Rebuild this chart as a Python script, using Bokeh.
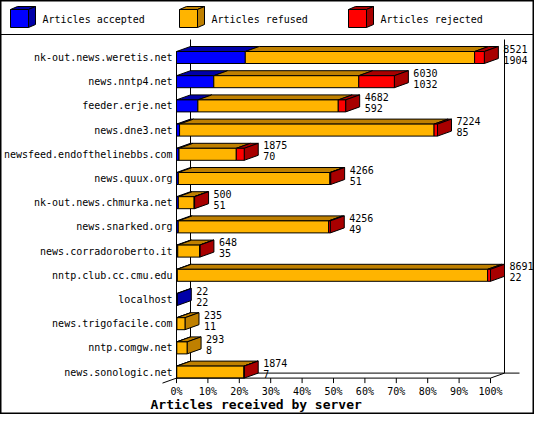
from bokeh.plotting import figure
from bokeh.models import Range1d, Span
from bokeh.core.properties import value
from bokeh.embed import file_html
from bokeh.resources import INLINE

# data (articles per server)
servers = ["nk-out.news.weretis.net", "news.nntp4.net", "feeder.erje.net",
           "news.dne3.net", "newsfeed.endofthelinebbs.com", "news.quux.org",
           "nk-out.news.chmurka.net", "news.snarked.org", "news.corradoroberto.it",
           "nntp.club.cc.cmu.edu", "localhost", "news.trigofacile.com",
           "nntp.comgw.net", "news.sonologic.net"]
totals = [8521, 6030, 4682, 7224, 1875, 4266, 500, 4256, 648, 8691, 22, 235, 293, 1874]
accepted = [1904, 1032, 592, 85, 70, 51, 51, 49, 35, 22, 22, 11, 8, 7]
rejected = [270, 985, 205, 95, 220, 20, 12, 45, 10, 80, 0, 0, 0, 6]
refused = [t - a - r for t, a, r in zip(totals, accepted, rejected)]

series_names = ["Articles accepted", "Articles refused", "Articles rejected"]
front_colors = ["#0000ff", "#ffb400", "#ff0000"]
shade_colors = ["#0000a8", "#bf8000", "#a80000"]

tick_values = [0, 10, 20, 30, 40, 50, 60, 70, 80, 90, 100]
tick_labels = ["0%", "10%", "20%", "30%", "40%", "50%", "60%", "70%", "80%", "90%", "100%"]
x_title = "Articles received by server"

# layout: canvas size and scale of the data axes
W, H = 534, 414
PX_PCT = 3.14   # pixels per percent
PX_ROW = 24.2   # pixels per server row
x_start = -176 / PX_PCT
y_top = -57 / PX_ROW


def sx(px):
    return x_start + px / PX_PCT


def sy(py):
    return y_top + py / PX_ROW


DX = 14 / PX_PCT   # 3d depth
DY = 5 / PX_ROW
HALF = 6 / PX_ROW  # half bar height

MONO = value("DejaVu Sans Mono")

p = figure(width=W, height=H, output_backend="svg", toolbar_location=None,
           x_range=Range1d(x_start, x_start + W / PX_PCT),
           y_range=Range1d(y_top + H / PX_ROW, y_top),
           x_axis_location=None, y_axis_location=None, min_border=0)
p.grid.visible = False
p.outline_line_color = "black"
p.outline_line_width = 2
p.background_fill_color = "white"
p.border_fill_color = "white"

n = len(servers)
axis_y = n - 1 + HALF
floor_y = axis_y - DY
wall_top = sy(39)

# back walls and floor
p.segment(x0=[DX, 100 + DX, DX, DX], y0=[wall_top, wall_top, floor_y, floor_y],
          x1=[DX, 100 + DX, 100 + DX + 15 / PX_PCT, -DX],
          y1=[floor_y, floor_y, floor_y, axis_y + DY],
          line_color="black", line_width=1)

# 3d stacked bars
vmax = max(totals)
front = dict(left=[], right=[], top=[], bottom=[], color=[])
tops = dict(xs=[], ys=[], color=[])
sides = dict(xs=[], ys=[], color=[])
for i in range(n):
    yt, yb = i - HALF, i + HALF
    left = 0.0
    last = 0
    for k, vals in enumerate([accepted, refused, rejected]):
        v = vals[i]
        if v <= 0:
            continue
        right = left + v / vmax * 100
        front["left"].append(left)
        front["right"].append(right)
        front["top"].append(yt)
        front["bottom"].append(yb)
        front["color"].append(front_colors[k])
        tops["xs"].append([left, right, right + DX, left + DX])
        tops["ys"].append([yt, yt, yt - DY, yt - DY])
        tops["color"].append(shade_colors[k])
        left = right
        last = k
    sides["xs"].append([left, left + DX, left + DX, left])
    sides["ys"].append([yt, yt - DY, yb - DY, yb])
    sides["color"].append(shade_colors[last])

p.patches(xs="xs", ys="ys", fill_color="color", line_color="black", line_width=1, source=tops)
p.patches(xs="xs", ys="ys", fill_color="color", line_color="black", line_width=1, source=sides)
p.quad(left="left", right="right", top="top", bottom="bottom", fill_color="color",
       line_color="black", line_width=1, source=front)

# front axes
p.segment(x0=[0, 0, 100], y0=[axis_y, -HALF, axis_y], x1=[100, 0, 100 + DX], y1=[axis_y, axis_y, floor_y],
          line_color="black", line_width=1)
p.segment(x0=tick_values, y0=[axis_y] * len(tick_values), x1=tick_values,
          y1=[axis_y + 5 / PX_ROW] * len(tick_values), line_color="black", line_width=1)
p.text(x=tick_values, y=[axis_y + 13 / PX_ROW] * len(tick_values), text=tick_labels,
       text_font=MONO, text_font_size="10px", text_align="center", text_baseline="middle",
       text_color="black")
p.text(x=[sx(150)], y=[axis_y + 26 / PX_ROW], text=[x_title], text_font=MONO,
       text_font_size="13px", text_font_style="bold", text_baseline="middle", text_color="black")

# server names
p.text(x=[-4 / PX_PCT] * n, y=list(range(n)), text=servers, text_font=MONO,
       text_font_size="10px", text_align="right", text_baseline="middle", text_color="black")

# value labels: total on top, accepted below
lab_x = [t / vmax * 100 + 19 / PX_PCT for t in totals]
p.text(x=lab_x, y=[i - 9 / PX_ROW for i in range(n)], text=[str(t) for t in totals],
       text_font=MONO, text_font_size="10px", text_baseline="middle", text_color="black")
p.text(x=lab_x, y=[i + 2 / PX_ROW for i in range(n)], text=[str(a) for a in accepted],
       text_font=MONO, text_font_size="10px", text_baseline="middle", text_color="black")

# legend strip with 3d boxes
p.add_layout(Span(location=sy(34), dimension="width", line_color="black", line_width=1))
for k, name in enumerate(series_names):
    bx = 10 + k * 169
    l, r, t, b = sx(bx), sx(bx + 18), sy(9), sy(27)
    ddx, ddy = 7 / PX_PCT, 3 / PX_ROW
    p.patches(xs=[[l, r, r + ddx, l + ddx], [r, r + ddx, r + ddx, r]],
              ys=[[t, t, t - ddy, t - ddy], [t, t - ddy, b - ddy, b]],
              fill_color=shade_colors[k], line_color="black", line_width=1)
    p.quad(left=[l], right=[r], top=[t], bottom=[b], fill_color=front_colors[k],
           line_color="black", line_width=1)
    p.text(x=[sx(bx + 32)], y=[sy(19)], text=[name], text_font=MONO, text_font_size="10px",
           text_baseline="middle", text_color="black")

open("out.html", "w").write(file_html(p, INLINE))
